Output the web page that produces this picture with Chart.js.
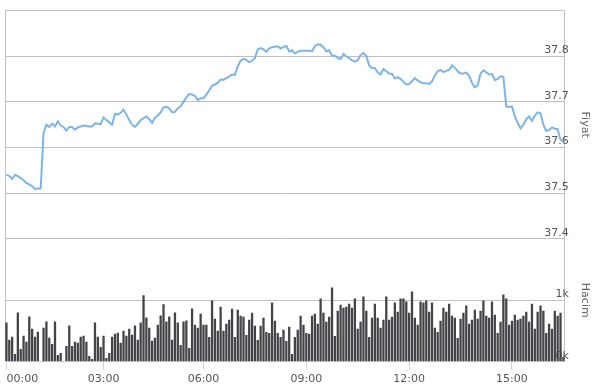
<!DOCTYPE html>
<html>
<head>
<meta charset="utf-8">
<script src="https://cdn.jsdelivr.net/npm/chart.js@4.4.0/dist/chart.umd.min.js"></script>
<style>
    html, body { margin: 0; padding: 0; background: #fff; }
    #wrapper { width: 592px; height: 387px; }
</style>
</head>
<body>
<div id="wrapper"><canvas id="chart"></canvas></div>
<script>
// price, one point per bar
const priceValues = [
    37.540, 37.538, 37.531, 37.540, 37.537, 37.533, 37.528, 37.522, 37.519, 37.515,
    37.509, 37.510, 37.510, 37.632, 37.650, 37.645, 37.652, 37.646, 37.657, 37.648,
    37.645, 37.637, 37.645, 37.645, 37.639, 37.644, 37.646, 37.648, 37.647, 37.646,
    37.646, 37.653, 37.652, 37.651, 37.666, 37.660, 37.655, 37.650, 37.674, 37.672,
    37.676, 37.683, 37.672, 37.660, 37.650, 37.645, 37.652, 37.660, 37.664, 37.668,
    37.662, 37.654, 37.665, 37.670, 37.677, 37.688, 37.689, 37.686, 37.677, 37.678,
    37.686, 37.690, 37.700, 37.710, 37.717, 37.716, 37.713, 37.704, 37.708, 37.708,
    37.716, 37.725, 37.735, 37.738, 37.742, 37.749, 37.748, 37.752, 37.755, 37.760,
    37.759, 37.778, 37.790, 37.794, 37.792, 37.787, 37.790, 37.796, 37.815, 37.818,
    37.815, 37.810, 37.817, 37.820, 37.821, 37.822, 37.817, 37.820, 37.823, 37.810,
    37.813, 37.806, 37.810, 37.812, 37.812, 37.812, 37.812, 37.811, 37.822, 37.826,
    37.825, 37.820, 37.811, 37.813, 37.801, 37.801, 37.796, 37.794, 37.805, 37.800,
    37.796, 37.791, 37.788, 37.791, 37.803, 37.807, 37.801, 37.780, 37.774, 37.774,
    37.764, 37.760, 37.772, 37.767, 37.762, 37.761, 37.751, 37.754, 37.750, 37.744,
    37.738, 37.739, 37.745, 37.752, 37.747, 37.743, 37.741, 37.741, 37.739, 37.745,
    37.758, 37.767, 37.770, 37.765, 37.768, 37.770, 37.780, 37.775, 37.767, 37.762,
    37.762, 37.764, 37.757, 37.742, 37.732, 37.736, 37.762, 37.769, 37.765, 37.760,
    37.761, 37.748, 37.750, 37.756, 37.755, 37.690, 37.689, 37.690, 37.668, 37.654,
    37.642, 37.650, 37.662, 37.668, 37.658, 37.670, 37.677, 37.675, 37.650, 37.636,
    37.638, 37.644, 37.641, 37.640, 37.617, 37.613
];

// volume per bar
const volumeValues = [
    637, 357, 407, 126, 802, 209, 423, 324, 736, 538,
    407, 489, 11, 555, 654, 390, 291, 654, 110, 143,
    11, 258, 588, 258, 324, 308, 407, 423, 324, 93,
    44, 637, 407, 242, 423, 60, 143, 407, 456, 473,
    308, 505, 423, 538, 440, 588, 357, 637, 1082, 720,
    555, 341, 390, 604, 753, 934, 654, 736, 357, 802,
    637, 275, 654, 670, 225, 868, 604, 552, 781, 601,
    601, 404, 995, 699, 503, 896, 503, 617, 683, 863,
    404, 847, 749, 732, 437, 683, 798, 585, 355, 585,
    716, 486, 470, 962, 667, 470, 404, 519, 339, 568,
    126, 404, 519, 749, 601, 470, 454, 749, 781, 617,
    1027, 798, 650, 732, 1208, 421, 831, 929, 880, 896,
    945, 880, 1027, 536, 650, 1060, 831, 404, 716, 945,
    716, 552, 683, 1060, 683, 732, 962, 814, 1027, 1027,
    978, 798, 1142, 716, 601, 978, 962, 995, 814, 962,
    552, 486, 667, 880, 814, 945, 749, 716, 388, 699,
    798, 913, 617, 683, 847, 699, 831, 995, 749, 716,
    978, 765, 470, 650, 1093, 1027, 601, 667, 765, 683,
    700, 749, 814, 650, 945, 536, 814, 913, 831, 470,
    617, 536, 831, 749, 798, 77
];

const tickIndex = [0, 34, 69, 105, 141, 177];
const tickLabels = ['00:00', '03:00', '06:00', '09:00', '12:00', '15:00'];

const priceMin = 37.4;
const priceMax = 37.9;
const volumeMax = 2000;

const lastIdx = priceValues.length - 1;

// Draw left plot border
const plotBorder = {
    id: 'plotBorder',
    beforeDatasetsDraw(chart) {
        const a = chart.chartArea;
        const ctx = chart.ctx;
        ctx.save();
        ctx.strokeStyle = '#c0c0c0';
        ctx.lineWidth = 1;
        ctx.beginPath();
        ctx.moveTo(a.left + 0.5, a.top);
        ctx.lineTo(a.left + 0.5, a.bottom);
        ctx.stroke();
        ctx.restore();
    }
};

let ctx = document.getElementById('chart').getContext('2d');
let chart = new Chart(ctx, {
    type: 'bar',
    data: {
        datasets: [
            {
                type: 'line',
                label: 'Fiyat',
                data: priceValues.map((v, i) => ({x: i, y: v})),
                yAxisID: 'yPrice',
                borderColor: '#7cb5ec',
                borderWidth: 2,
                pointRadius: 0,
                tension: 0
            },
            {
                type: 'bar',
                label: 'Hacim',
                data: volumeValues.map((v, i) => ({x: i, y: v})),
                yAxisID: 'yVol',
                backgroundColor: '#434348',
                barPercentage: 0.8,
                categoryPercentage: 1
            }
        ]
    },
    options: {
        responsive: true,
        maintainAspectRatio: false,
        animation: false,
        layout: {padding: {left: 5, top: 10, right: 0, bottom: -2}},
        plugins: {legend: {display: false}, tooltip: {enabled: false}},
        scales: {
            x: {
                type: 'linear',
                min: -0.5,
                max: lastIdx + 0.5,
                offset: false,
                afterBuildTicks: function(axis) {
                    let ticks = tickIndex.map(v => ({value: v}));
                    ticks.push({value: lastIdx + 0.5});
                    axis.ticks = ticks;
                },
                ticks: {
                    autoSkip: false,
                    maxRotation: 0,
                    align: 'inner',
                    padding: 3,
                    color: '#555555',
                    font: {family: 'DejaVu Sans', size: 11},
                    callback: function(value, index) {
                        return index < tickLabels.length ? tickLabels[index] : '';
                    }
                },
                grid: {
                    offset: false,
                    drawOnChartArea: false,
                    tickLength: 8,
                    color: ctx => ctx.index < tickLabels.length ? '#ccd6eb' : 'rgba(0,0,0,0)'
                },
                border: {color: '#ccd6eb'}
            },
            yPrice: {
                type: 'linear',
                position: 'right',
                stack: 'panels',
                stackWeight: 228,
                weight: 0,
                min: priceMin,
                max: priceMax,
                ticks: {
                    stepSize: 0.1,
                    mirror: true,
                    padding: 4,
                    labelOffset: -6,
                    color: '#555555',
                    font: {family: 'DejaVu Sans', size: 11},
                    callback: v => v >= priceMax - 0.001 ? '' : v.toFixed(1)
                },
                grid: {color: '#c0c0c0', drawTicks: false},
                border: {color: '#c0c0c0'},
                title: {
                    display: true,
                    text: 'Fiyat',
                    color: '#666666',
                    font: {family: 'DejaVu Sans', size: 11},
                    padding: {top: 1, bottom: 5}
                }
            },
            yVol: {
                type: 'linear',
                position: 'right',
                stack: 'panels',
                stackWeight: 123,
                weight: 1,
                min: 0,
                max: volumeMax,
                ticks: {
                    stepSize: 1000,
                    mirror: true,
                    padding: 4,
                    labelOffset: -6,
                    color: '#555555',
                    font: {family: 'DejaVu Sans', size: 11},
                    callback: v => v >= volumeMax ? '' : (v / 1000) + 'k'
                },
                grid: {color: '#c0c0c0', drawTicks: false},
                border: {color: '#c0c0c0'},
                title: {
                    display: true,
                    text: 'Hacim',
                    color: '#666666',
                    font: {family: 'DejaVu Sans', size: 11},
                    padding: {top: 1, bottom: 5}
                }
            }
        }
    },
    plugins: [plotBorder]
});
</script>
</body>
</html>
